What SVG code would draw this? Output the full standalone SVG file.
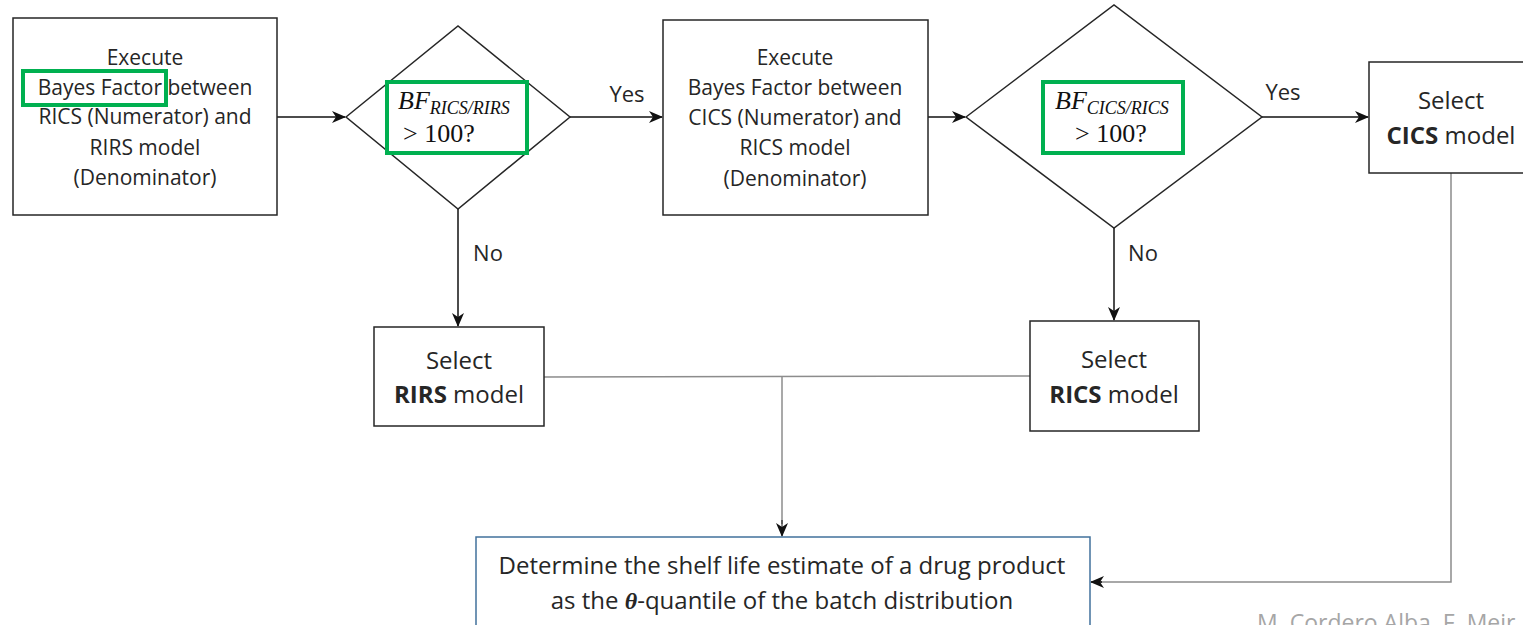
<svg xmlns="http://www.w3.org/2000/svg" width="1523" height="625" viewBox="0 0 1523 625">
<style>
.box{fill:#fff;stroke:#262626;stroke-width:1.5}
.blue{fill:#fff;stroke:#41719c;stroke-width:1.5}
.hl{fill:none;stroke:#00b050;stroke-width:4}
.t{font-family:"Open Sans","Noto Sans",sans-serif;font-size:21px;fill:#262626;text-anchor:middle}
.tb{font-family:"Open Sans","Noto Sans",sans-serif;font-size:24px;fill:#262626;text-anchor:middle}
.m{font-family:"Liberation Serif","DejaVu Serif",serif;font-size:26px;fill:#111}
.lbl{font-family:"Open Sans","Noto Sans",sans-serif;font-size:22px;fill:#262626;text-anchor:middle}
.c{fill:none;stroke:#111;stroke-width:1.5}
.g{fill:none;stroke:#8c8c8c;stroke-width:1.5}
</style>
<defs>
<marker id="ah" markerWidth="14" markerHeight="12" refX="13" refY="6" orient="auto" markerUnits="userSpaceOnUse">
<path d="M0,0 L14,6 L0,12 L4,6 z" fill="#111"/>
</marker>
</defs>
<g id="connectors">
<line class="c" x1="277" y1="117" x2="345" y2="117" marker-end="url(#ah)"/>
<line class="c" x1="570" y1="117" x2="662" y2="117" marker-end="url(#ah)"/>
<line class="c" x1="928" y1="117" x2="965" y2="117" marker-end="url(#ah)"/>
<line class="c" x1="1262" y1="117" x2="1368" y2="117" marker-end="url(#ah)"/>
<line class="c" x1="458" y1="209" x2="458" y2="326" marker-end="url(#ah)"/>
<line class="c" x1="1114" y1="228" x2="1114" y2="320" marker-end="url(#ah)"/>
<polyline class="g" points="544,377 1030,376"/>
<line class="g" x1="782" y1="377" x2="782" y2="524"/>
<line class="c" x1="782" y1="520" x2="782" y2="536" style="stroke-width:1" marker-end="url(#ah)"/>
<polyline class="g" points="1451,173 1451,582 1100,582"/>
<line class="c" x1="1102" y1="582" x2="1091" y2="582" marker-end="url(#ah)"/>
<text class="lbl" x="627" y="102">Yes</text>
<text class="lbl" x="1283" y="100">Yes</text>
<text class="lbl" x="488" y="261">No</text>
<text class="lbl" x="1143" y="261">No</text>
</g>
<g id="box1">
<rect class="box" x="13" y="18" width="264" height="197"/>
<text class="t" x="145" y="65">Execute</text>
<text class="t" x="145" y="95">Bayes Factor between</text>
<text class="t" x="145" y="124">RICS (Numerator) and</text>
<text class="t" x="145" y="155">RIRS model</text>
<text class="t" x="145" y="185">(Denominator)</text>
<rect class="hl" x="23" y="71" width="143" height="34"/>
</g>
<g id="decision1">
<polygon class="box" points="346,117 458,26 570,117 458,209"/>
<rect class="hl" x="387" y="82" width="140" height="71"/>
<text class="m" x="398" y="109" font-size="25"><tspan font-style="italic">BF</tspan><tspan font-style="italic" font-size="18" dy="5">RICS/RIRS</tspan></text>
<text class="m" x="403" y="142">&gt; 100?</text>
</g>
<g id="box2">
<rect class="box" x="663" y="20" width="265" height="195"/>
<text class="t" x="795" y="65">Execute</text>
<text class="t" x="795" y="95">Bayes Factor between</text>
<text class="t" x="795" y="125">CICS (Numerator) and</text>
<text class="t" x="795" y="155">RICS model</text>
<text class="t" x="795" y="186">(Denominator)</text>
</g>
<g id="decision2">
<polygon class="box" points="966,117 1114,5 1262,117 1114,228"/>
<rect class="hl" x="1043" y="82" width="140" height="71"/>
<text class="m" x="1055" y="109" font-size="25"><tspan font-style="italic">BF</tspan><tspan font-style="italic" font-size="18" dy="5">CICS/RICS</tspan></text>
<text class="m" x="1075" y="142">&gt; 100?</text>
</g>
<g id="box3">
<rect class="box" x="1369" y="62" width="170" height="111"/>
<text class="tb" x="1451" y="109">Select</text>
<text class="tb" x="1451" y="144"><tspan font-weight="bold">CICS</tspan> model</text>
</g>
<g id="box4">
<rect class="box" x="374" y="327" width="170" height="99"/>
<text class="tb" x="459" y="369">Select</text>
<text class="tb" x="459" y="403"><tspan font-weight="bold">RIRS</tspan> model</text>
</g>
<g id="box5">
<rect class="box" x="1030" y="321" width="169" height="110"/>
<text class="tb" x="1114" y="368">Select</text>
<text class="tb" x="1114" y="403"><tspan font-weight="bold">RICS</tspan> model</text>
</g>
<g id="box6">
<rect class="blue" x="476" y="537" width="614" height="100"/>
<text class="tb" x="782" y="574">Determine the shelf life estimate of a drug product</text>
<text class="tb" x="782" y="609">as the <tspan font-family="Liberation Serif,serif" font-style="italic" font-weight="bold">θ</tspan>-quantile of the batch distribution</text>
</g>
<text x="1257" y="631" style="font-family:'Open Sans','Noto Sans',sans-serif;font-size:23px;fill:#a6a6a6">M. Cordero Alba, F. Meir</text>
</svg>
